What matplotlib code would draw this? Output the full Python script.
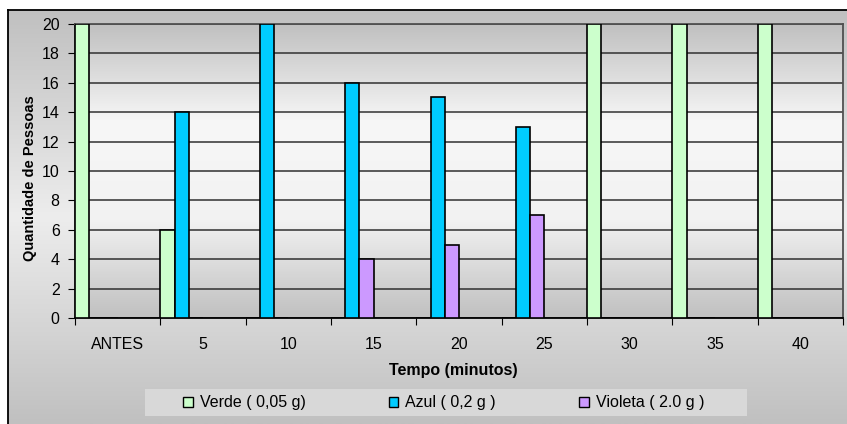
import numpy as np
import matplotlib
matplotlib.use("Agg")
import matplotlib.pyplot as plt
from matplotlib.colors import LinearSegmentedColormap
from matplotlib.patches import Rectangle

plt.rcParams['font.family'] = ['Liberation Sans', 'DejaVu Sans']

categories = ["ANTES", "5", "10", "15", "20", "25", "30", "35", "40"]
verde = [20, 6, 0, 0, 0, 0, 20, 20, 20]
azul = [0, 14, 20, 16, 15, 13, 0, 0, 0]
violeta = [0, 0, 0, 4, 5, 7, 0, 0, 0]
series_labels = ["Verde ( 0,05 g)", "Azul ( 0,2 g )", "Violeta ( 2.0 g )"]
colors = ["#CCFFCC", "#00CCFF", "#CC99FF"]
yticks = [0, 2, 4, 6, 8, 10, 12, 14, 16, 18, 20]

W, H = 847, 424
fig = plt.figure(figsize=(W / 100, H / 100), dpi=100)
fig.patch.set_facecolor("white")

# chart-area background with vertical gradient
bg = fig.add_axes([8 / W, 0, (W - 8) / W, (H - 10) / H], zorder=-2)
cmap_bg = LinearSegmentedColormap.from_list("bg", ["#C0C0C0", "#EDEDED", "#C0C0C0"])
bg.imshow(np.linspace(0, 1, 256).reshape(-1, 1), cmap=cmap_bg, aspect="auto",
          extent=[0, 1, 0, 1], origin="upper")
bg.set_xlim(0, 1); bg.set_ylim(0, 1)
bg.set_xticks([]); bg.set_yticks([])
for s in ["right", "bottom"]:
    bg.spines[s].set_visible(False)
for s in ["top", "left"]:
    bg.spines[s].set_color("black")
    bg.spines[s].set_linewidth(1.3)

# plot area
ax = fig.add_axes([75 / W, (H - 318) / H, 768 / W, 294 / H])
ax.set_facecolor("none")
cmap_pa = LinearSegmentedColormap.from_list("pa", ["#C0C0C0", "#F7F7F7", "#F2F2F2", "#C0C0C0"])
ax.imshow(np.linspace(0, 1, 256).reshape(-1, 1), cmap=cmap_pa, aspect="auto",
          extent=[0, 1, 0, 1], origin="upper", transform=ax.transAxes, zorder=0)

n = len(categories)
x = np.arange(n)
w = 1 / 6
for k, (vals, col, lab) in enumerate(zip([verde, azul, violeta], colors, series_labels)):
    pos = x - 0.5 + w * (k + 0.5)
    ax.bar(pos, vals, width=w, color=col, edgecolor="black", linewidth=1.2,
           label=lab, zorder=3)

ax.set_xlim(-0.5, n - 0.5)
ax.set_ylim(0, 20)
ax.set_yticks(yticks)
ax.yaxis.grid(True, color="#303030", linewidth=1.1, zorder=1)
ax.set_axisbelow(True)
ax.set_xticks(np.arange(-0.5, n, 1))
ax.set_xticklabels([])
ax.set_xticks(x, minor=True)
ax.set_xticklabels(categories, minor=True)
ax.tick_params(axis="x", which="minor", length=0, pad=14, labelsize=11.5)
ax.tick_params(axis="x", which="major", length=5, direction="out", color="black")
ax.tick_params(axis="y", length=5, direction="out", labelsize=11.5, pad=6)
for s in ["top", "right"]:
    ax.spines[s].set_color("#505050")
    ax.spines[s].set_linewidth(1.3)
for s in ["left", "bottom"]:
    ax.spines[s].set_color("black")
    ax.spines[s].set_linewidth(1.3)

fig.text(30 / W, 1 - 178 / H, "Quantidade de Pessoas", rotation=90, ha="center",
         va="center", fontsize=10.5, fontweight="bold")
fig.text(453 / W, 1 - 370 / H, "Tempo (minutos)", ha="center", va="center",
         fontsize=11.5, fontweight="bold")

# legend background
fig.patches.append(Rectangle((145 / W, 1 - 416 / H), (747 - 145) / W, 27 / H,
                             transform=fig.transFigure, facecolor="#D8D8D8",
                             edgecolor="none", zorder=-1))
leg = fig.legend(loc="center left", bbox_to_anchor=(183 / W, 1 - 403 / H), ncol=3,
                 fontsize=11.5, frameon=False, handlelength=0.6,
                 handleheight=0.6, handletextpad=0.45, columnspacing=5.2,
                 borderpad=0, borderaxespad=0)
for h in leg.legend_handles:
    h.set_linewidth(1.0)

fig.savefig("out.png", dpi=100)
